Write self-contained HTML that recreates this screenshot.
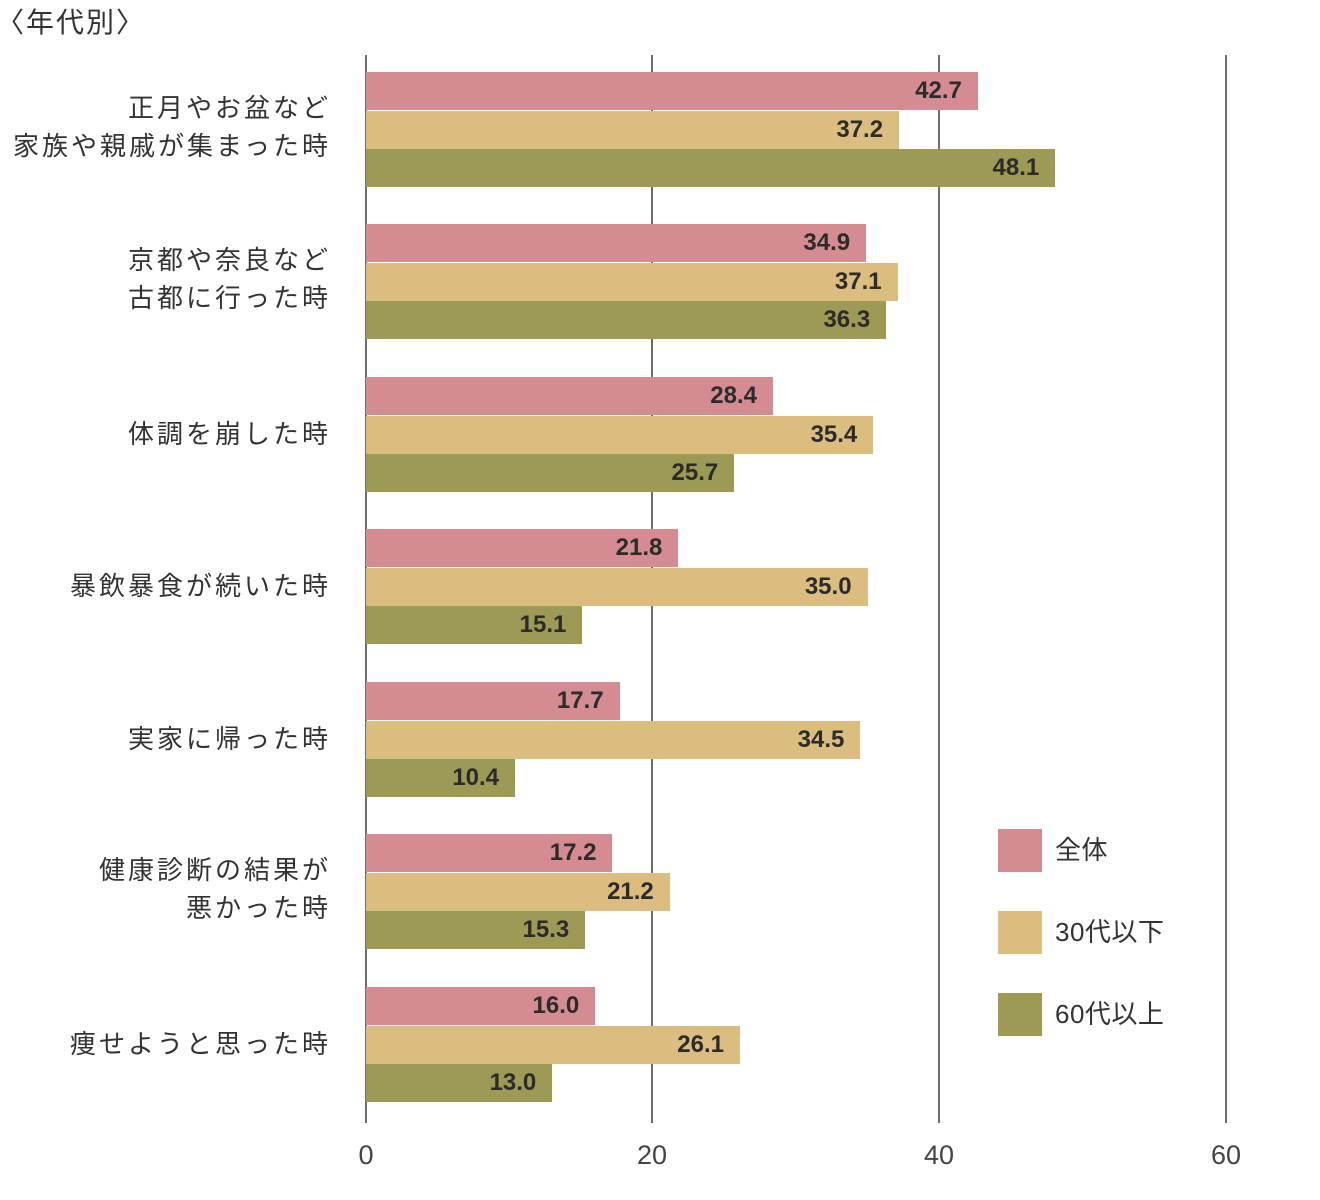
<!DOCTYPE html>
<html><head><meta charset="utf-8"><style>
body{margin:0;width:1320px;height:1200px;background:#fff;position:relative;overflow:hidden;font-family:"Liberation Sans","Noto Sans CJK JP",sans-serif}
.g{position:absolute;top:55px;height:1068px;width:2px;background:#6e6e6e}
.b{position:absolute;left:366px;height:38px}
.v{position:absolute;font-weight:bold;font-size:24px;color:#2b2b2b;text-align:right;width:100px;line-height:38px}
.l{position:absolute;right:992px;font-size:26px;letter-spacing:3px;margin-right:-3px;color:#333;text-align:right;line-height:38px;white-space:nowrap}
.t{position:absolute;top:1140px;font-size:27px;color:#444;width:80px;text-align:center}
.lg{position:absolute;left:998px;width:44px;height:43px}
.lt{position:absolute;left:1055px;font-size:26px;color:#333;line-height:43px;letter-spacing:0.5px}
</style></head><body>
<div style="position:absolute;left:-4px;top:1px;font-size:28px;letter-spacing:2px;color:#333">〈年代別〉</div>
<div class="g" style="left:365px"></div><div class="g" style="left:651px"></div><div class="g" style="left:938px"></div><div class="g" style="left:1225px"></div>
<div id="c"></div>
<div class="t" style="left:326px">0</div><div class="t" style="left:612px">20</div><div class="t" style="left:899px">40</div><div class="t" style="left:1186px">60</div>
<div class="lg" style="top:829px;background:#d48b91"></div><div class="lt" style="top:829px">全体</div>
<div class="lg" style="top:911px;background:#dbbd80"></div><div class="lt" style="top:911px">30代以下</div>
<div class="lg" style="top:993px;background:#9c9a55"></div><div class="lt" style="top:993px">60代以上</div>
<script>
var d=[["正月やお盆など<br>家族や親戚が集まった時",42.7,37.2,48.1],["京都や奈良など<br>古都に行った時",34.9,37.1,36.3],["体調を崩した時",28.4,35.4,25.7],["暴飲暴食が続いた時",21.8,35.0,15.1],["実家に帰った時",17.7,34.5,10.4],["健康診断の結果が<br>悪かった時",17.2,21.2,15.3],["痩せようと思った時",16.0,26.1,13.0]];
var cols=["#d48b91","#dbbd80","#9c9a55"],h="";
var tops=[72,224,377,529,682,834,987];
d.forEach(function(r,i){var t=tops[i];
h+='<div class="l" style="top:'+(t+(r[0].indexOf("<br>")>0?17:38))+'px">'+r[0]+'</div>';
for(var k=0;k<3;k++){var w=r[k+1]*14.33,y=t+k*38.5;
h+='<div class="b" style="top:'+y+'px;width:'+w+'px;background:'+cols[k]+'"></div>';
h+='<div class="v" style="top:'+y+'px;left:'+(366+w-116)+'px">'+r[k+1].toFixed(1)+'</div>';}
});
document.getElementById("c").innerHTML=h;
</script>
</body></html>
